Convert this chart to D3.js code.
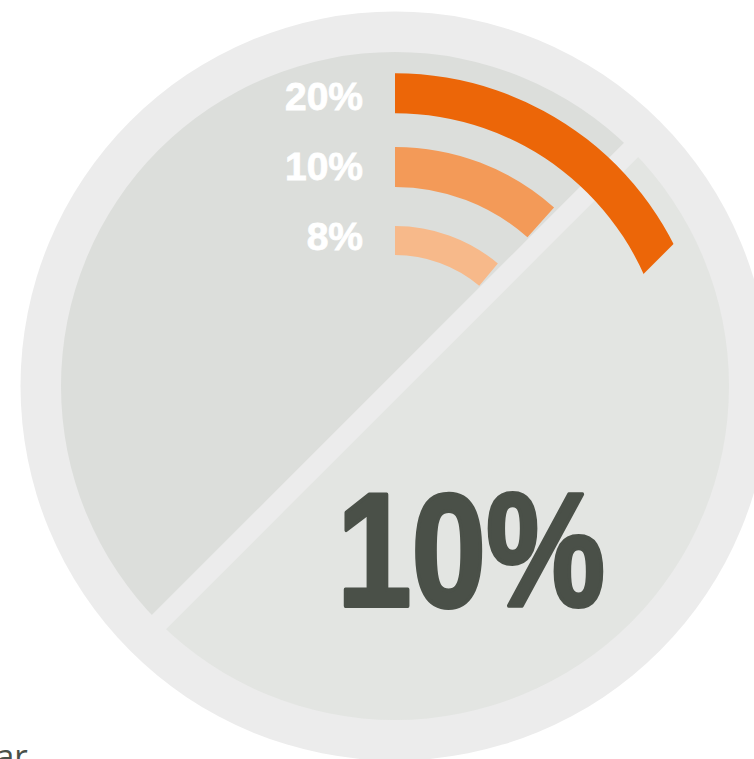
<!DOCTYPE html>
<html>
<head>
<meta charset="utf-8">
<script src="https://cdn.jsdelivr.net/npm/d3@7"></script>
<style>
  html, body { margin: 0; padding: 0; background: #fff; overflow: hidden; }
  svg { display: block; }
</style>
</head>
<body>
<div id="chart"></div>
<script>
// Data
const sliceNames = ["right", "left"];
const sliceValues = [50, 50];
const ringLabels = ["20%", "10%", "8%"];
const ringValues = [20, 10, 8];
const headline = "10%";
const footText = "ar";

const width = 754;
const height = 759;
const cx = 395;
const cy = 386;
const outerR = 374.5;
const innerR = 334;
const gapWidth = 20;

const sliceColors = ["#e3e5e2", "#dcdedb"];
const ringColors = ["#ec6608", "#f39a58", "#f7b98a"];
const textDark = "#4a5048";

const svg = d3.select("#chart")
              .append("svg")
              .attr("width", width)
              .attr("height", height);

const g = svg.append("g").attr("transform", `translate(${cx},${cy})`);

// outer ring
g.append("circle").attr("r", outerR).attr("fill", "#ececec");

// two halves of the inner disk
const pie = d3.pie().sort(null).startAngle(Math.PI / 4).endAngle(Math.PI / 4 + 2 * Math.PI);
const sliceArc = d3.arc().innerRadius(0).outerRadius(innerR);
g.selectAll("path.slice")
 .data(pie(sliceValues))
 .enter()
 .append("path")
 .attr("class", "slice")
 .attr("d", sliceArc)
 .attr("fill", (d, i) => sliceColors[i]);

// separator along the 45 degree diagonal
g.append("rect")
 .attr("x", -innerR - 18)
 .attr("y", -gapWidth / 2)
 .attr("width", 2 * (innerR + 18))
 .attr("height", gapWidth)
 .attr("transform", "rotate(-45)")
 .attr("fill", "#ececec");

// Scales for the rings
const ringMid = d3.scalePoint().domain(ringLabels).range([292.7, 145.5]);
const ringThick = d3.scaleLinear().domain([8, 10]).range([29, 40]).clamp(true);
const sweep = d3.scaleLinear().domain([0, 8, 10, 20]).range([0, 40, 41.7, 64.25]);
const labelY = d3.scalePoint().domain(ringLabels).range([110, 250]);

const toRad = deg => deg * Math.PI / 180;

ringLabels.forEach((lab, i) => {
  const v = ringValues[i];
  const rm = ringMid(lab);
  const t = ringThick(v);
  const end = toRad(sweep(v));
  const crosses = end > Math.PI / 4;
  const arc = d3.arc()
                .innerRadius(rm - t / 2)
                .outerRadius(rm + t / 2)
                .startAngle(0)
                .endAngle(crosses ? end + 0.2 : end);
  const p = g.append("path")
             .attr("d", arc())
             .attr("fill", ringColors[i]);
  if (crosses) {
    // cut the end parallel to the separator
    const off = rm * Math.sin(end - Math.PI / 4);
    const id = "cut" + i;
    g.append("clipPath").attr("id", id)
     .append("rect")
     .attr("x", -1000).attr("y", -1000)
     .attr("width", 1000 + off).attr("height", 2000)
     .attr("transform", "rotate(45)");
    p.attr("clip-path", `url(#${id})`);
  }
});

// ring labels
svg.selectAll("text.ring")
   .data(ringLabels)
   .enter()
   .append("text")
   .attr("class", "ring")
   .attr("x", 363)
   .attr("y", d => labelY(d))
   .attr("text-anchor", "end")
   .attr("font-family", "'Liberation Sans Narrow', 'Liberation Sans', Arial, sans-serif")
   .attr("font-weight", "bold")
   .attr("font-size", 39)
   .attr("fill", "#ffffff")
   .attr("stroke", "#ffffff")
   .attr("stroke-width", 0.8)
   .text(d => d);

// headline number
svg.append("text")
   .attr("x", 337)
   .attr("y", 606)
   .attr("font-family", "'Liberation Sans', Arial, sans-serif")
   .attr("font-weight", "bold")
   .attr("font-size", 161)
   .attr("textLength", 268)
   .attr("lengthAdjust", "spacingAndGlyphs")
   .attr("fill", textDark)
   .attr("stroke", textDark)
   .attr("stroke-width", 4)
   .attr("stroke-linejoin", "round")
   .text(headline);

// cut-off caption at the bottom left
svg.append("text")
   .attr("x", -4)
   .attr("y", 768)
   .attr("font-family", "'Open Sans', sans-serif")
   .attr("font-size", 33)
   .attr("fill", textDark)
   .text(footText);
</script>
</body>
</html>
